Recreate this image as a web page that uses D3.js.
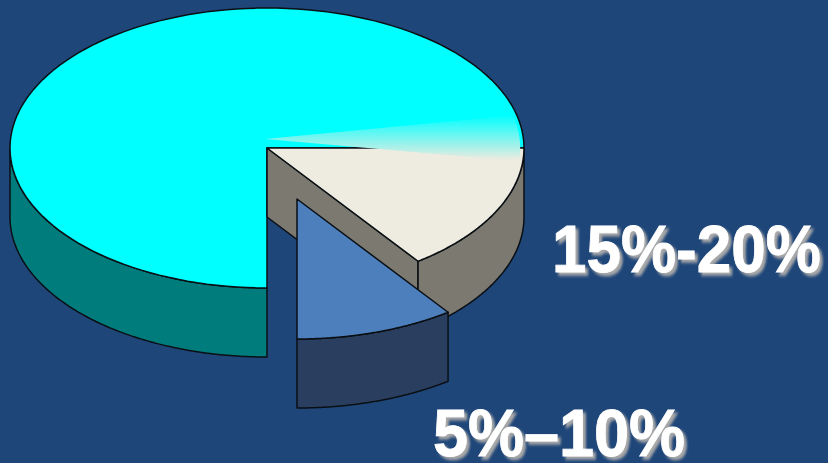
<!DOCTYPE html>
<html>
<head>
<meta charset="utf-8">
<script src="https://cdn.jsdelivr.net/npm/d3@7/dist/d3.min.js"></script>
<style>html,body{margin:0;padding:0;background:#1f4679;overflow:hidden}</style>
</head>
<body>
<svg id="c" width="828" height="463"></svg>
<script>
const categories = ["15%-20%", "5%–10%", "other"];
const values = [15, 10, 75];
const labels = ["15%-20%", "5%–10%"];
const topColors = ["#eeebe0", "#4d7fbc", "#00ffff"];
const sideColors = ["#7b7970", "#2a3f5f", "#007c7c"];
const glintDegrees = [-13.6, 5.5];

const W = 828, H = 463;
const cx = 267, cy = 148, rx = 257, ry = 140, depth = 69;
const explode = [[0, 0], [30, 51], [0, 0]];
const labelPos = [[552, 272, 62, 1.065], [433, 456, 63, 1.048]];

const svg = d3.select("#c");
const defs = svg.append("defs");
const grad = defs.append("linearGradient").attr("id", "glint")
  .attr("gradientUnits", "userSpaceOnUse").attr("x1", 0).attr("x2", 0).attr("y1", 115).attr("y2", 160);
grad.append("stop").attr("offset", 0).attr("stop-color", "#00ffff");
grad.append("stop").attr("offset", 1).attr("stop-color", "#eeebe0");
const f = defs.append("filter").attr("id", "shadow").attr("x", "-5%").attr("y", "-10%").attr("width", "115%").attr("height", "130%");
f.append("feDropShadow").attr("dx", 3).attr("dy", 3).attr("stdDeviation", 1.3).attr("flood-color", "#a9a9a9").attr("flood-opacity", 1);

const pie = d3.pie().sort(null).startAngle(Math.PI / 2).endAngle(Math.PI * 2.5)(values);
const X = d3.scaleLinear().domain([-1, 1]).range([cx - rx, cx + rx]);
const Y = d3.scaleLinear().domain([-1, 1]).range([cy + ry, cy - ry]);
const line = d3.line();
const pt = (a, off, dz = 0, r = 1) => [X(r * Math.sin(a)) + off[0], Y(r * Math.cos(a)) + off[1] + dz];
const arcPts = (a0, a1, off, dz = 0, r = 1) =>
  d3.range(0, 121).map(i => pt(a0 + (a1 - a0) * i / 120, off, dz, r));
const center = (off, dz = 0) => [X(0) + off[0], Y(0) + off[1] + dz];

const stroke = { stroke: "#0a0f14", width: 1.5 };
function draw(points, fill, closed = true) {
  svg.append("path")
    .attr("d", line(points) + (closed ? "Z" : ""))
    .attr("fill", fill)
    .attr("stroke", stroke.stroke)
    .attr("stroke-width", stroke.width)
    .attr("stroke-linejoin", "round");
}

// large slice
const big = pie[2];
draw([...arcPts(Math.PI, Math.PI * 1.5, explode[2]), ...arcPts(Math.PI * 1.5, Math.PI, explode[2], depth)], sideColors[2]);
draw([center(explode[2]), ...arcPts(big.startAngle, big.endAngle, explode[2])], topColors[2]);

// first slice: inner wall, outer wall, top
const a = pie[0];
draw([center(explode[0]), pt(a.endAngle, explode[0]), pt(a.endAngle, explode[0], depth), center(explode[0], depth)], sideColors[0]);
draw([...arcPts(a.startAngle, a.endAngle, explode[0]), ...arcPts(a.endAngle, a.startAngle, explode[0], depth)], sideColors[0]);
draw([center(explode[0]), ...arcPts(a.startAngle, a.endAngle, explode[0])], topColors[0]);

// highlight wedge
const g0 = Math.PI / 2 + glintDegrees[0] * Math.PI / 180, g1 = Math.PI / 2 + glintDegrees[1] * Math.PI / 180;
svg.append("path")
  .attr("d", line([[X(0) - 2, Y(0) - 9], ...arcPts(g0, g1, [0, 0], 0, 0.985)]) + "Z")
  .attr("fill", "url(#glint)");

// exploded slice
const b = pie[1];
draw([...arcPts(b.startAngle, b.endAngle, explode[1]), ...arcPts(b.endAngle, b.startAngle, explode[1], depth)], sideColors[1]);
draw([center(explode[1]), ...arcPts(b.startAngle, b.endAngle, explode[1])], topColors[1]);

svg.selectAll("text.lab").data(labels).join("text")
  .attr("class", "lab")
  .attr("transform", (d, i) => `translate(${labelPos[i][0]},${labelPos[i][1]}) scale(1,${labelPos[i][3]})`)
  .attr("font-family", "'Liberation Sans', Arial, sans-serif")
  .attr("font-weight", 700)
  .attr("font-size", (d, i) => labelPos[i][2])
  .attr("fill", "#ffffff")
  .attr("stroke", "#ffffff")
  .attr("stroke-width", 0.8)
  .attr("filter", "url(#shadow)")
  .text(d => d);
</script>
</body>
</html>
